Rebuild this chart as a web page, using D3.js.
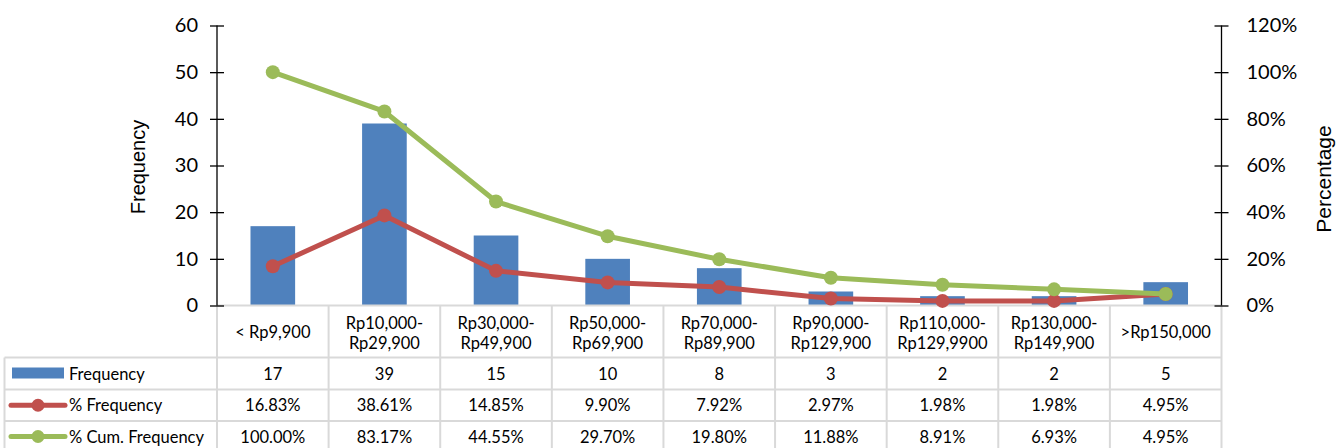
<!DOCTYPE html>
<html>
<head>
<meta charset="utf-8">
<script src="https://cdn.jsdelivr.net/npm/d3@7/dist/d3.min.js"></script>
<style>
  body { margin: 0; background: #fff; }
  svg { display: block; }
</style>
</head>
<body>
<svg id="chart" width="1344" height="448"></svg>
<script>
// data
const categories = [
  ["< Rp9,900"],
  ["Rp10,000-", "Rp29,900"],
  ["Rp30,000-", "Rp49,900"],
  ["Rp50,000-", "Rp69,900"],
  ["Rp70,000-", "Rp89,900"],
  ["Rp90,000-", "Rp129,900"],
  ["Rp110,000-", "Rp129,9900"],
  ["Rp130,000-", "Rp149,900"],
  [">Rp150,000"]
];
const frequency = [17, 39, 15, 10, 8, 3, 2, 2, 5];
const pctFrequency = [16.83, 38.61, 14.85, 9.90, 7.92, 2.97, 1.98, 1.98, 4.95];
const pctCumFrequency = [100.00, 83.17, 44.55, 29.70, 19.80, 11.88, 8.91, 6.93, 4.95];
const leftTicks = [0, 10, 20, 30, 40, 50, 60];
const rightTicks = [0, 20, 40, 60, 80, 100, 120];

const svg = d3.select("#chart");
const plotLeft = 217, plotRight = 1221.5, plotTop = 25.5, plotBottom = 305.5;
const tickFont = "Lato, 'Open Sans', sans-serif";
const blue = "#4F81BD", red = "#C0504D", green = "#9BBB59", grid = "#D9D9D9";

const x = d3.scaleBand().domain(d3.range(categories.length)).range([plotLeft, plotRight]);
const yL = d3.scaleLinear().domain([0, 60]).range([plotBottom, plotTop]);
const yR = d3.scaleLinear().domain([0, 120]).range([plotBottom, plotTop]);

// bars
svg.append("g").selectAll("rect").data(frequency).join("rect")
  .attr("x", (d, i) => x(i) + x.bandwidth() * 0.3)
  .attr("width", x.bandwidth() * 0.4)
  .attr("y", d => yL(d))
  .attr("height", d => yL(0) - yL(d))
  .attr("fill", blue);

// table grid
const rowY = [plotBottom, 357.5, 389.5, 421, 452];
const tg = svg.append("g").attr("stroke", grid).attr("stroke-width", 2).attr("fill", "none");
d3.range(categories.length + 1).forEach(i => {
  const xx = i < categories.length ? x(i) : plotRight;
  tg.append("line").attr("x1", xx).attr("x2", xx).attr("y1", plotBottom).attr("y2", 448);
});
tg.append("line").attr("x1", 4.5).attr("x2", 4.5).attr("y1", rowY[1]).attr("y2", 448);
tg.append("line").attr("x1", plotLeft).attr("x2", plotRight).attr("y1", plotBottom).attr("y2", plotBottom);
rowY.slice(1, 4).forEach(yy => {
  tg.append("line").attr("x1", 4.5).attr("x2", plotRight).attr("y1", yy).attr("y2", yy);
});

// lines
const lineR = d3.line().x((d, i) => x(i) + x.bandwidth() / 2).y(d => yR(d));
function series(vals, color) {
  svg.append("path").datum(vals).attr("d", lineR)
    .attr("fill", "none").attr("stroke", color).attr("stroke-width", 5)
    .attr("stroke-linejoin", "round");
  svg.append("g").selectAll("circle").data(vals).join("circle")
    .attr("cx", (d, i) => x(i) + x.bandwidth() / 2)
    .attr("cy", d => yR(d)).attr("r", 7).attr("fill", color);
}
series(pctFrequency, red);
series(pctCumFrequency, green);

// axes
const axL = svg.append("g").attr("transform", `translate(${plotLeft},0)`)
  .call(d3.axisLeft(yL).tickValues(leftTicks).tickSize(7).tickPadding(12));
axL.selectAll(".tick line").attr("x2", -7).attr("x1", 7);
const axR = svg.append("g").attr("transform", `translate(${plotRight},0)`)
  .call(d3.axisRight(yR).tickValues(rightTicks).tickFormat(d => d + "%").tickSize(7).tickPadding(18));
axR.selectAll(".tick line").attr("x1", -7).attr("x2", 7);
[axL, axR].forEach(ax => {
  ax.select(".domain").attr("d", `M0,${plotTop}V${plotBottom}`).attr("stroke", "#000").attr("stroke-width", 1.3);
  ax.selectAll(".tick line").attr("stroke", "#000").attr("stroke-width", 1.3);
  ax.selectAll(".tick text").attr("font-size", 20).attr("font-family", tickFont).attr("fill", "#000");
});

// axis titles
svg.append("text").attr("transform", "translate(145,167) rotate(-90)")
  .attr("text-anchor", "middle").attr("font-family", "'Liberation Sans', Arial, sans-serif")
  .attr("font-size", 20).text("Frequency");
svg.append("text").attr("transform", "translate(1331,179) rotate(-90)")
  .attr("text-anchor", "middle").attr("font-family", "'Liberation Sans', Arial, sans-serif")
  .attr("font-size", 21).text("Percentage");

// category row
const tFont = "Lato, 'Open Sans', sans-serif";
const tSize = 16.5;
categories.forEach((lines, i) => {
  const cx = x(i) + x.bandwidth() / 2;
  const t = svg.append("text").attr("text-anchor", "middle")
    .attr("font-family", tFont).attr("font-size", tSize);
  if (lines.length === 1) {
    t.append("tspan").attr("x", cx).attr("y", 338).text(lines[0]);
  } else {
    t.append("tspan").attr("x", cx).attr("y", 329).text(lines[0]);
    t.append("tspan").attr("x", cx).attr("y", 349).text(lines[1]);
  }
});

// value rows
const rows = [
  { name: "Frequency", vals: frequency.map(String), color: blue, bar: true },
  { name: "% Frequency", vals: pctFrequency.map(v => v.toFixed(2) + "%"), color: red },
  { name: "% Cum. Frequency", vals: pctCumFrequency.map(v => v.toFixed(2) + "%"), color: green }
];
rows.forEach((r, ri) => {
  const cy = (rowY[ri + 1] + rowY[ri + 2]) / 2;
  if (r.bar) {
    svg.append("rect").attr("x", 12).attr("y", cy - 6).attr("width", 52).attr("height", 11).attr("fill", r.color);
  } else {
    svg.append("line").attr("x1", 11).attr("x2", 65).attr("y1", cy).attr("y2", cy)
      .attr("stroke", r.color).attr("stroke-width", 5).attr("stroke-linecap", "round");
    svg.append("circle").attr("cx", 38).attr("cy", cy).attr("r", 6.5).attr("fill", r.color);
  }
  svg.append("text").attr("x", 69).attr("y", cy + 6).attr("font-family", tFont)
    .attr("font-size", tSize).text(r.name);
  r.vals.forEach((v, i) => {
    svg.append("text").attr("x", x(i) + x.bandwidth() / 2).attr("y", cy + 6)
      .attr("text-anchor", "middle").attr("font-family", tFont).attr("font-size", tSize).text(v);
  });
});
</script>
</body>
</html>
